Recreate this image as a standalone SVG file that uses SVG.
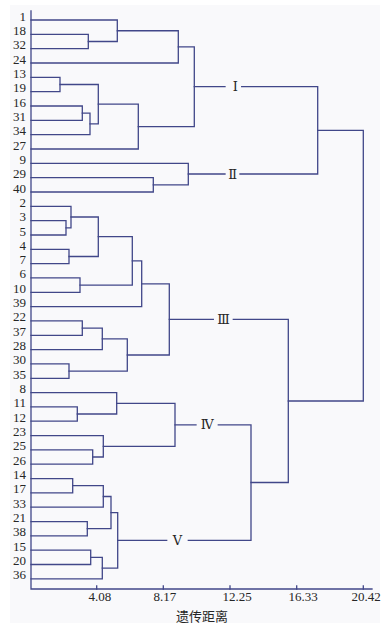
<svg xmlns="http://www.w3.org/2000/svg" width="389" height="628" viewBox="0 0 389 628">
<style>
.ln{fill:none;stroke:#414789;stroke-width:1.3;stroke-linecap:square}
.lf{font-family:"Liberation Serif","Times New Roman",serif;font-size:13px;fill:#262626;text-anchor:end}
.tk{font-family:"Liberation Serif","Times New Roman",serif;font-size:13px;fill:#262626}
.cl{font-family:"Liberation Serif","DejaVu Serif",serif;font-size:13px;fill:#262626;text-anchor:middle}
.ti{font-family:"Liberation Serif","Noto Sans CJK SC",serif;font-size:13px;fill:#262626;text-anchor:middle}
</style>
<rect x="0" y="0" width="389" height="628" fill="#ffffff"/>
<rect x="10" y="5" width="370" height="618" fill="#f9f9fb"/>
<g id="axes" class="ln">
<path d="M31 11 V589 H372"/>
<path d="M96.7 589 V586 M163.3 589 V586 M230 589 V586 M296.7 589 V586 M363.3 589 V586"/>
</g>
<g id="ticks" class="tk">
<text x="88.5" y="601">4.08</text>
<text x="153.5" y="601">8.17</text>
<text x="222.5" y="601">12.25</text>
<text x="288.5" y="601">16.33</text>
<text x="351.5" y="601">20.42</text>
<text class="ti" x="202" y="621">遗传距离</text>
</g>
<g id="connectors" class="ln">
<path d="M31 34.3 H88.3 V48.7 H31"/>
<path d="M31 20 H117.3 V41.5 H88.3"/>
<path d="M117.3 30.75 H178.3 V63 H31"/>
<path d="M31 77.3 H60 V91.7 H31"/>
<path d="M31 106 H82.3 V120.3 H31"/>
<path d="M82.3 113.2 H90 V134.6 H31"/>
<path d="M60 84.5 H98.3 V123.9 H90"/>
<path d="M98.3 104.2 H138.3 V149 H31"/>
<path d="M178.3 46.9 H194.3 V126.6 H138.3"/>
<path d="M31 177.6 H153.3 V192 H31"/>
<path d="M31 163.3 H188.3 V184.8 H153.3"/>
<path d="M194.3 86.7 H225 M241.7 86.7 H317.7 V174 H240 M225 174 H188.3"/>
<path d="M31 220.6 H66 V235 H31"/>
<path d="M31 206.3 H71 V227.8 H66"/>
<path d="M31 249.3 H69 V263.6 H31"/>
<path d="M71 217 H98.3 V256.5 H69"/>
<path d="M31 277.9 H80 V292.3 H31"/>
<path d="M98.3 236.7 H132.3 V285.1 H80"/>
<path d="M132.3 260.9 H141.7 V306.6 H31"/>
<path d="M31 320.9 H82.3 V335.3 H31"/>
<path d="M82.3 328.1 H102.3 V349.6 H31"/>
<path d="M31 363.9 H69 V378.3 H31"/>
<path d="M102.3 338.9 H127.3 V371.1 H69"/>
<path d="M141.7 283.8 H169.3 V355 H127.3"/>
<path d="M31 406.9 H77.3 V421.2 H31"/>
<path d="M31 392.6 H116.7 V414 H77.3"/>
<path d="M31 449.9 H92.7 V464.2 H31"/>
<path d="M31 435.6 H103.3 V457 H92.7"/>
<path d="M116.7 403.3 H175 V446.3 H103.3"/>
<path d="M31 478.6 H72.7 V492.9 H31"/>
<path d="M72.7 485.7 H103.3 V507.2 H31"/>
<path d="M31 521.6 H87.3 V535.9 H31"/>
<path d="M103.3 496.5 H111 V528.7 H87.3"/>
<path d="M31 550.2 H90.7 V564.5 H31"/>
<path d="M90.7 557.3 H102.3 V578.9 H31"/>
<path d="M111 512.6 H117.7 V568.1 H102.3"/>
<path d="M175 424.8 H196 M218.3 424.8 H251 V540.3 H188.3 M166.7 540.3 H117.7"/>
<path d="M169.3 319.4 H213.3 M233.3 319.4 H288.3 V482.5 H251"/>
<path d="M317.7 130.4 H363.3 V401 H288.3"/>
</g>
<g id="clusters" class="cl">
<g id="cI"><text x="235.3" y="91.2">Ⅰ</text></g>
<g id="cII"><text x="232.7" y="178.5">Ⅱ</text></g>
<g id="cIII"><text x="223.5" y="323.9">Ⅲ</text></g>
<g id="cIV"><text x="207.3" y="429.3">Ⅳ</text></g>
<g id="cV"><text x="177.5" y="544.8">Ⅴ</text></g>
</g>
<g id="leaves" class="lf">
<g id="n1"><text x="26" y="20.5">1</text></g>
<g id="n18"><text x="26" y="34.8">18</text></g>
<g id="n32"><text x="26" y="49.2">32</text></g>
<g id="n24"><text x="26" y="63.5">24</text></g>
<g id="n13"><text x="26" y="77.8">13</text></g>
<g id="n19"><text x="26" y="92.2">19</text></g>
<g id="n16"><text x="26" y="106.5">16</text></g>
<g id="n31"><text x="26" y="120.8">31</text></g>
<g id="n34"><text x="26" y="135.1">34</text></g>
<g id="n27"><text x="26" y="149.5">27</text></g>
<g id="n9"><text x="26" y="163.8">9</text></g>
<g id="n29"><text x="26" y="178.1">29</text></g>
<g id="n40"><text x="26" y="192.5">40</text></g>
<g id="n2"><text x="26" y="206.8">2</text></g>
<g id="n3"><text x="26" y="221.1">3</text></g>
<g id="n5"><text x="26" y="235.5">5</text></g>
<g id="n4"><text x="26" y="249.8">4</text></g>
<g id="n7"><text x="26" y="264.1">7</text></g>
<g id="n6"><text x="26" y="278.4">6</text></g>
<g id="n10"><text x="26" y="292.8">10</text></g>
<g id="n39"><text x="26" y="307.1">39</text></g>
<g id="n22"><text x="26" y="321.4">22</text></g>
<g id="n37"><text x="26" y="335.8">37</text></g>
<g id="n28"><text x="26" y="350.1">28</text></g>
<g id="n30"><text x="26" y="364.4">30</text></g>
<g id="n35"><text x="26" y="378.8">35</text></g>
<g id="n8"><text x="26" y="393.1">8</text></g>
<g id="n11"><text x="26" y="407.4">11</text></g>
<g id="n12"><text x="26" y="421.7">12</text></g>
<g id="n23"><text x="26" y="436.1">23</text></g>
<g id="n25"><text x="26" y="450.4">25</text></g>
<g id="n26"><text x="26" y="464.7">26</text></g>
<g id="n14"><text x="26" y="479.1">14</text></g>
<g id="n17"><text x="26" y="493.4">17</text></g>
<g id="n33"><text x="26" y="507.7">33</text></g>
<g id="n21"><text x="26" y="522.1">21</text></g>
<g id="n38"><text x="26" y="536.4">38</text></g>
<g id="n15"><text x="26" y="550.7">15</text></g>
<g id="n20"><text x="26" y="565">20</text></g>
<g id="n36"><text x="26" y="579.4">36</text></g>
</g>
</svg>
